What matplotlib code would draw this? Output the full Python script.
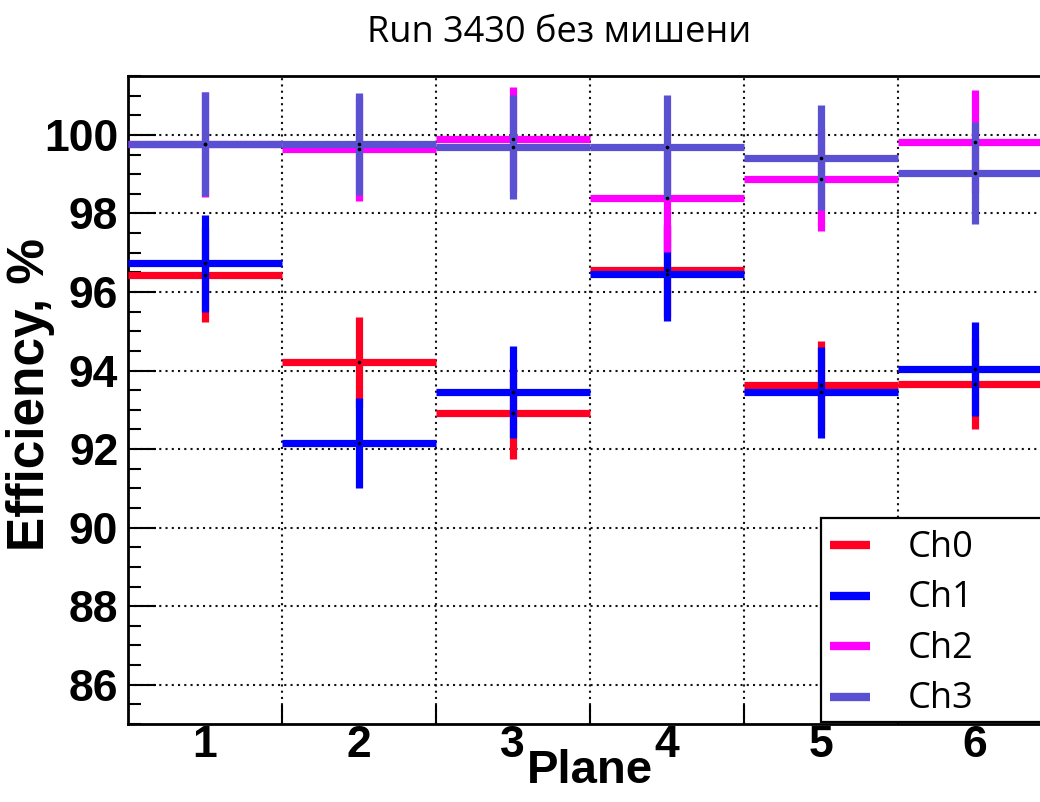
import matplotlib

matplotlib.use("Agg")
import matplotlib.pyplot as plt
from matplotlib.patches import Rectangle
from matplotlib.ticker import MultipleLocator

# efficiency per plane, %
planes = [1, 2, 3, 4, 5, 6]
channels = ["Ch0", "Ch1", "Ch2", "Ch3"]

ch0_eff = [96.43, 94.22, 92.92, 96.55, 93.62, 93.67]
ch0_err = [1.19, 1.15, 1.16, 1.18, 1.13, 1.17]
ch1_eff = [96.73, 92.16, 93.46, 96.47, 93.45, 94.04]
ch1_err = [1.23, 1.15, 1.17, 1.20, 1.16, 1.20]
ch2_eff = [99.76, 99.64, 99.90, 98.39, 98.87, 99.83]
ch2_err = [1.33, 1.33, 1.32, 1.36, 1.31, 1.32]
ch3_eff = [99.76, 99.76, 99.69, 99.69, 99.42, 99.04]
ch3_err = [1.32, 1.30, 1.33, 1.33, 1.34, 1.30]

colors = ["#ff0022", "#0000ff", "#ff00ff", "#5a50d2"]
series = [
    (ch0_eff, ch0_err),
    (ch1_eff, ch1_err),
    (ch2_eff, ch2_err),
    (ch3_eff, ch3_err),
]

fig = plt.figure(figsize=(10.4, 8.02), dpi=100)
# axes runs past the right edge of the picture, as in the reference
ax = fig.add_axes([128 / 1040, 78 / 802, 923.5 / 1040, 648 / 802])

for (eff, err), color in zip(series, colors):
    ax.errorbar(
        planes,
        eff,
        xerr=0.5,
        yerr=err,
        fmt="none",
        ecolor=color,
        elinewidth=5.2,
        capsize=0,
        zorder=3,
    )
    ax.plot(planes, eff, "o", ms=1.6, color="black", zorder=4)

ax.set_xlim(0.5, 6.5)
ax.set_ylim(85, 101.5)

edges = [p + 0.5 for p in planes[:-1]]
ax.set_xticks(edges, labels=[""] * len(edges))
ax.set_xticks(
    planes,
    labels=[str(p) for p in planes],
    minor=True,
    fontsize=32,
    fontweight="bold",
    family="Liberation Sans",
)
ax.tick_params(axis="x", which="major", direction="in", length=14, width=1.5)
ax.tick_params(axis="x", which="minor", length=0, pad=0.5)

ax.yaxis.set_major_locator(MultipleLocator(2))
ax.yaxis.set_minor_locator(MultipleLocator(0.5))
ax.tick_params(axis="y", which="major", direction="in", length=20, width=1.5, pad=7)
ax.tick_params(axis="y", which="minor", direction="in", length=9.5, width=1.5)
for label in ax.get_yticklabels():
    label.set_fontsize(32)
    label.set_fontweight("bold")
    label.set_family("Liberation Sans")

ax.grid(True, which="major", linestyle=(0, (1, 2)), color="#111111", linewidth=1.5)
ax.set_axisbelow(True)
for spine in ax.spines.values():
    spine.set_linewidth(2)

ax.set_ylabel("Efficiency, %", fontsize=37, fontweight="bold", family="Liberation Sans")
ax.yaxis.set_label_coords(-0.079, 0.509)
ax.set_xlabel("Plane", fontsize=34, fontweight="bold", family="Liberation Sans")
ax.xaxis.set_label_coords(0.5, -0.039)

fig.text(
    0.538,
    1 - 42 / 802,
    "Run 3430 без мишени",
    ha="center",
    va="baseline",
    fontsize=26,
    family="Open Sans",
)

# legend box, drawn by hand so it can run off the right edge like the original
ax.add_patch(
    Rectangle(
        (0.7501, 0.0035),
        0.4,
        0.3144,
        transform=ax.transAxes,
        facecolor="white",
        edgecolor="black",
        linewidth=1.6,
        zorder=5,
        clip_on=False,
    )
)
row_step = 50.5 / 648
for i, (name, color) in enumerate(zip(channels, colors)):
    y_handle = (724 - 545) / 648 - i * row_step
    y_text = (724 - 556.7) / 648 - i * row_step
    ax.plot(
        [0.7602, 0.8035],
        [y_handle, y_handle],
        color=color,
        linewidth=6,
        solid_capstyle="butt",
        transform=ax.transAxes,
        zorder=6,
        clip_on=False,
    )
    ax.text(
        0.8446,
        y_text,
        name,
        transform=ax.transAxes,
        ha="left",
        va="baseline",
        fontsize=26,
        family="Open Sans",
        zorder=6,
    )

fig.savefig("out.png", dpi=100)
